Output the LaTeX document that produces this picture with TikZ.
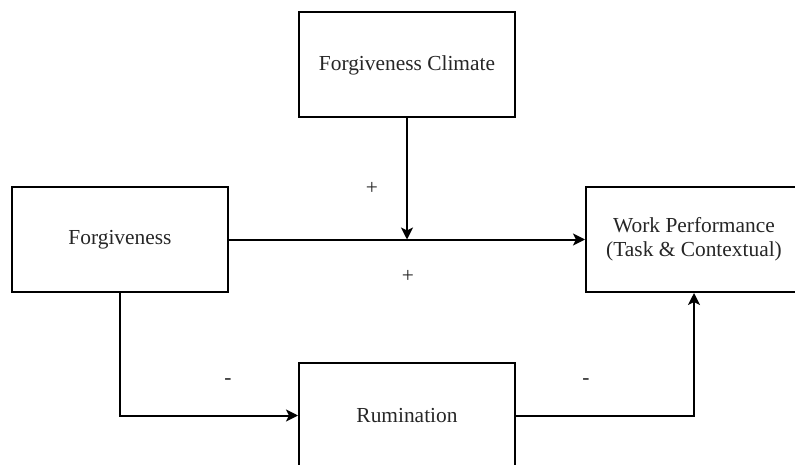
\documentclass[tikz,border=0pt]{standalone}
\usepackage{fontspec}
\setmainfont{Liberation Serif}
\usetikzlibrary{arrows.meta}
\begin{document}
\begin{tikzpicture}[x=1pt,y=-1pt,
  box/.style={draw, line width=2pt, minimum width=216pt, minimum height=105pt, inner sep=0pt, align=center, font=\fontsize{21.4}{24}\selectfont, text=black!85},
  conn/.style={line width=2pt, -{Stealth[length=12pt,width=12pt,inset=3pt]}},
  lbl/.style={font=\fontsize{21.4}{24}\selectfont, text=black!85}]
\useasboundingbox (0,0) rectangle (795,465);
\clip (0,0) rectangle (795,465);
\node[box] (fc) at (407,65) {Forgiveness Climate};
\node[box] (f) at (120,239.5) {Forgiveness};
\node[box] (wp) at (694,239.5) {Work Performance\\(Task \& Contextual)};
\node[box] (r) at (407,415.5) {Rumination};
\coordinate (m) at (407,239.5);
\draw[conn] (f.east) -- (wp.west);
\draw[conn] (fc.south) -- (m);
\draw[conn] (f.south) |- (r.west);
\draw[conn] (r.east) -| (wp.south);
\node[lbl] (p1) at (372,188) {+};
\node[lbl] (p2) at (408,276) {+};
\node[lbl] (n1) at (228,382) {-};
\node[lbl] (n2) at (586,382) {-};
\end{tikzpicture}
\end{document}
